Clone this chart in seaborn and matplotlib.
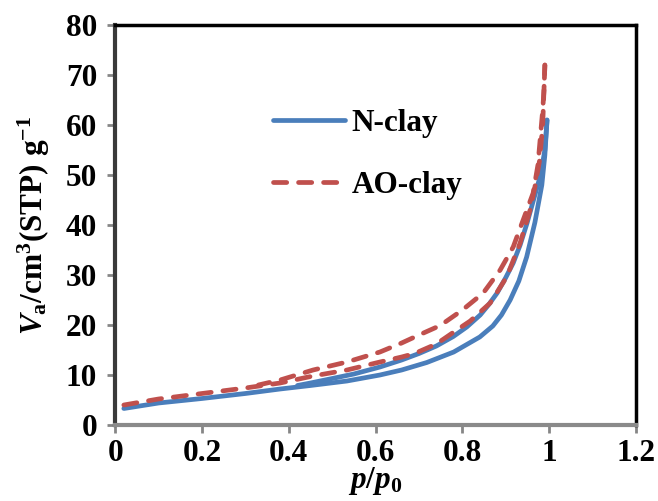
import numpy as np
import pandas as pd
import seaborn as sns
import matplotlib.pyplot as plt
from matplotlib.ticker import FormatStrFormatter, FuncFormatter

# N-clay isotherm (adsorption then desorption branch)
n_ads_x = [0.02, 0.1, 0.2, 0.3, 0.38, 0.45, 0.534, 0.61, 0.66, 0.718, 0.78, 0.84, 0.87,
           0.89, 0.91, 0.93, 0.948, 0.967, 0.983, 0.99, 0.995]
n_ads_y = [3.3, 4.4, 5.3, 6.3, 7.2, 7.9, 8.8, 10.0, 11.0, 12.5, 14.6, 17.6, 19.8,
           22.0, 25.0, 28.8, 33.6, 40.5, 48.0, 54.0, 61.0]
n_des_x = [0.995, 0.99, 0.98, 0.967, 0.949, 0.933, 0.917, 0.9, 0.88, 0.86, 0.841, 0.81,
           0.779, 0.74, 0.7, 0.66, 0.61, 0.55, 0.5, 0.45, 0.42]
n_des_y = [61.0, 55.0, 50.0, 46.0, 40.4, 36.0, 32.4, 29.5, 26.4, 24.0, 22.0, 19.6,
           17.7, 15.8, 14.3, 13.0, 11.6, 10.2, 9.3, 8.4, 7.9]

# AO-clay isotherm
ao_ads_x = [0.02, 0.1, 0.2, 0.3, 0.38, 0.456, 0.534, 0.61, 0.66, 0.69, 0.74, 0.787, 0.818,
            0.864, 0.902, 0.933, 0.956, 0.967, 0.978, 0.985, 0.99]
ao_ads_y = [4.0, 5.2, 6.3, 7.4, 8.4, 9.8, 11.0, 12.6, 13.6, 14.3, 16.2, 19.0, 20.8,
            24.4, 29.6, 36.4, 43.0, 47.6, 53.0, 60.0, 72.0]
ao_des_x = [0.99, 0.988, 0.985, 0.98, 0.974, 0.963, 0.94, 0.917, 0.887, 0.848, 0.8, 0.749,
            0.7, 0.66, 0.61, 0.534, 0.456, 0.38, 0.33]
ao_des_y = [72.0, 67.0, 63.0, 58.0, 52.0, 46.4, 41.0, 35.6, 31.0, 26.4, 23.0, 19.9,
            18.0, 16.4, 14.6, 12.6, 11.0, 9.0, 8.0]

rows = []
for sample, branch, xs, ys in [
    ("N-clay", "ads", n_ads_x, n_ads_y),
    ("N-clay", "des", n_des_x, n_des_y),
    ("AO-clay", "ads", ao_ads_x, ao_ads_y),
    ("AO-clay", "des", ao_des_x, ao_des_y),
]:
    for x, y in zip(xs, ys):
        rows.append({"sample": sample, "branch": sample + branch, "x": x, "y": y})
df = pd.DataFrame(rows)

sns.set_style("white")
plt.rcParams["font.family"] = ["Liberation Serif", "DejaVu Serif"]
plt.rcParams["font.weight"] = "bold"
plt.rcParams["axes.labelweight"] = "bold"
plt.rcParams["text.color"] = "black"
plt.rcParams["axes.labelcolor"] = "black"
plt.rcParams["xtick.color"] = "black"
plt.rcParams["ytick.color"] = "black"
plt.rcParams["mathtext.fontset"] = "custom"
plt.rcParams["mathtext.rm"] = "Liberation Serif:bold"
plt.rcParams["mathtext.it"] = "Liberation Serif:bold:italic"
plt.rcParams["mathtext.bf"] = "Liberation Serif:bold"
plt.rcParams["lines.dash_capstyle"] = "round"
plt.rcParams["lines.solid_capstyle"] = "round"

fs = 22.5

fig = plt.figure(figsize=(6.58, 5.01), dpi=100)
ax = fig.add_axes([0.175, 0.1517, 0.7916, 0.7983])

palette = {"N-clay": "#4A7EBB", "AO-clay": "#C0504D"}
dashes = {"N-clay": "", "AO-clay": (2.8, 2.5)}
sns.lineplot(data=df, x="x", y="y", hue="sample", style="sample", units="branch",
             estimator=None, sort=False, palette=palette, dashes=dashes,
             linewidth=3.4, ax=ax, legend=True)

ax.set_xlim(0, 1.2)
ax.set_ylim(0, 80)
ax.set_xticks(np.arange(0, 1.21, 0.2))
ax.set_yticks(np.arange(0, 81, 10))
ax.xaxis.set_major_formatter(FuncFormatter(lambda v, p: "%g" % round(v, 1)))
ax.yaxis.set_major_formatter(FormatStrFormatter("%d"))
ax.tick_params(axis="both", labelsize=fs, direction="out", length=5.8, width=2,
               color="#868686", labelcolor="black", bottom=True, left=True)
ax.tick_params(axis="y", pad=7)
ax.tick_params(axis="x", pad=4)
for s in ["top", "right"]:
    ax.spines[s].set_color("black")
    ax.spines[s].set_linewidth(2.5)
ax.spines["left"].set_color("#3a3a3a")
ax.spines["left"].set_linewidth(3)
ax.spines["bottom"].set_color("#8a8a8a")
ax.spines["bottom"].set_linewidth(3)

ax.set_xlabel(r"$p/p_\mathit{0}$", fontsize=fs, labelpad=-2)
ax.set_ylabel(r"$V_{\mathrm{a}}$/cm$^{3}$(STP) g$^{-1}$", fontsize=fs, labelpad=10)

leg = ax.legend(loc="upper left", bbox_to_anchor=(0.25, 0.86), frameon=False,
                fontsize=fs, handlelength=2.3, labelspacing=1.05, handletextpad=0.2)
for t in leg.get_texts():
    t.set_fontweight("bold")

fig.savefig("out.png", dpi=100)
